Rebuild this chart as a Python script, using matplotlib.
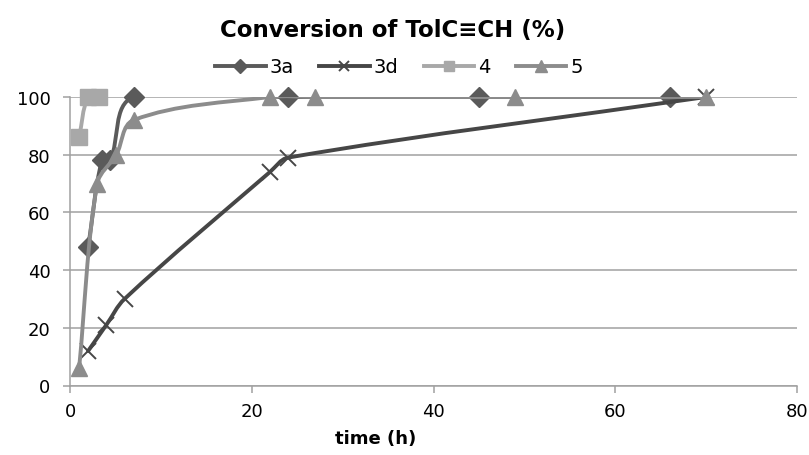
import math

import matplotlib

matplotlib.use("Agg")
import matplotlib.pyplot as plt
from matplotlib.lines import Line2D
from matplotlib.path import Path
from matplotlib.patches import PathPatch

plt.rcParams["font.family"] = ["DejaVu Sans"]

# ---------------------------------------------------------------------------
# data
t_3a = [2, 3.5, 4.4, 7, 24, 45, 66]
conv_3a = [48, 78, 78, 100, 100, 100, 100]

t_3d = [2, 4, 6, 22, 24, 70]
conv_3d = [12, 21, 30, 74, 79, 100]

t_4 = [1, 2, 3.2]
conv_4 = [86, 100, 100]

t_5 = [1, 3, 5.1, 7, 22, 27, 49, 70]
conv_5 = [6, 70, 80, 92, 100, 100, 100, 100]

labels = ["3a", "3d", "4", "5"]
xticks = [0, 20, 40, 60, 80]
yticks = [0, 20, 40, 60, 80, 100]

# ---------------------------------------------------------------------------
W, H = 809, 456
fig = plt.figure(figsize=(W / 100, H / 100), dpi=100)
ax_l, ax_r, ax_t, ax_b = 70, 797, 98, 386.5
ax = fig.add_axes([ax_l / W, 1 - ax_b / H, (ax_r - ax_l) / W, (ax_b - ax_t) / H])
ax.set_xlim(0, 80)
ax.set_ylim(0, 100)

# pixels per data unit, so the smoothing behaves like it does on screen
sx = (ax_r - ax_l) / 80.0
sy = (ax_b - ax_t) / 100.0


def smooth_path(xs, ys):
    """Bezier path through the points, tangents from neighbours (no loops)."""
    px = [x * sx for x in xs]
    py = [y * sy for y in ys]
    n = len(px)
    tang = []
    for i in range(n):
        i0 = max(i - 1, 0)
        i1 = min(i + 1, n - 1)
        dx, dy = px[i1] - px[i0], py[i1] - py[i0]
        L = math.hypot(dx, dy) or 1.0
        tang.append((dx / L, dy / L))
    verts = [(xs[0], ys[0])]
    codes = [Path.MOVETO]
    for i in range(n - 1):
        d = math.hypot(px[i + 1] - px[i], py[i + 1] - py[i]) / 3.0
        c1 = (px[i] + tang[i][0] * d, py[i] + tang[i][1] * d)
        c2 = (px[i + 1] - tang[i + 1][0] * d, py[i + 1] - tang[i + 1][1] * d)
        verts += [(c1[0] / sx, c1[1] / sy), (c2[0] / sx, c2[1] / sy),
                  (xs[i + 1], ys[i + 1])]
        codes += [Path.CURVE4] * 3
    return Path(verts, codes)


styles = [
    (t_3a, conv_3a, "#5a5a5a", "D", 10, 1.0),
    (t_3d, conv_3d, "#464646", "x", 11, 1.4),
    (t_4, conv_4, "#a8a8a8", "s", 11, 1.0),
    (t_5, conv_5, "#8c8c8c", "^", 12, 1.0),
]

handles = []
for z, (xs, ys, col, mk, ms, mew) in enumerate(styles):
    patch = PathPatch(smooth_path(xs, ys), fill=False, edgecolor=col, lw=2.8,
                      capstyle="round", joinstyle="round", zorder=3 + 2 * z)
    ax.add_patch(patch)
    ax.plot(xs, ys, ls="none", marker=mk, ms=ms, color=col, mec=col, mew=mew,
            zorder=4 + 2 * z, clip_on=False)
    handles.append(Line2D([], [], color=col, lw=2.8, marker=mk,
                          ms=ms * 0.7, mew=mew, mec=col))

# grid and axes styling (Excel-like)
ax.set_yticks(yticks)
ax.set_xticks(xticks)
ax.yaxis.grid(True, color="#a0a0a0", lw=1.1)
ax.set_axisbelow(True)
for s in ["top", "right"]:
    ax.spines[s].set_visible(False)
for s in ["left", "bottom"]:
    ax.spines[s].set_color("#a0a0a0")
    ax.spines[s].set_linewidth(1.1)
ax.tick_params(axis="both", colors="#a0a0a0", length=5, width=1.1,
               labelcolor="black", labelsize=13)
ax.tick_params(axis="x", pad=7)
ax.tick_params(axis="y", pad=9)

ax.set_xlabel("time (h)", fontsize=13, fontweight="bold")
ax.xaxis.set_label_coords(0.42, -0.15)

fig.text(0.485, 0.934, "Conversion of TolC\u2261CH (%)", ha="center", va="center",
         fontsize=16.5, fontweight="bold")

fig.legend(handles, labels, loc="center", bbox_to_anchor=(0.493, 0.851), ncol=4,
           frameon=False, fontsize=14, handlelength=2.6, handletextpad=0.2,
           columnspacing=1.3)

fig.savefig("out.png", dpi=100)
